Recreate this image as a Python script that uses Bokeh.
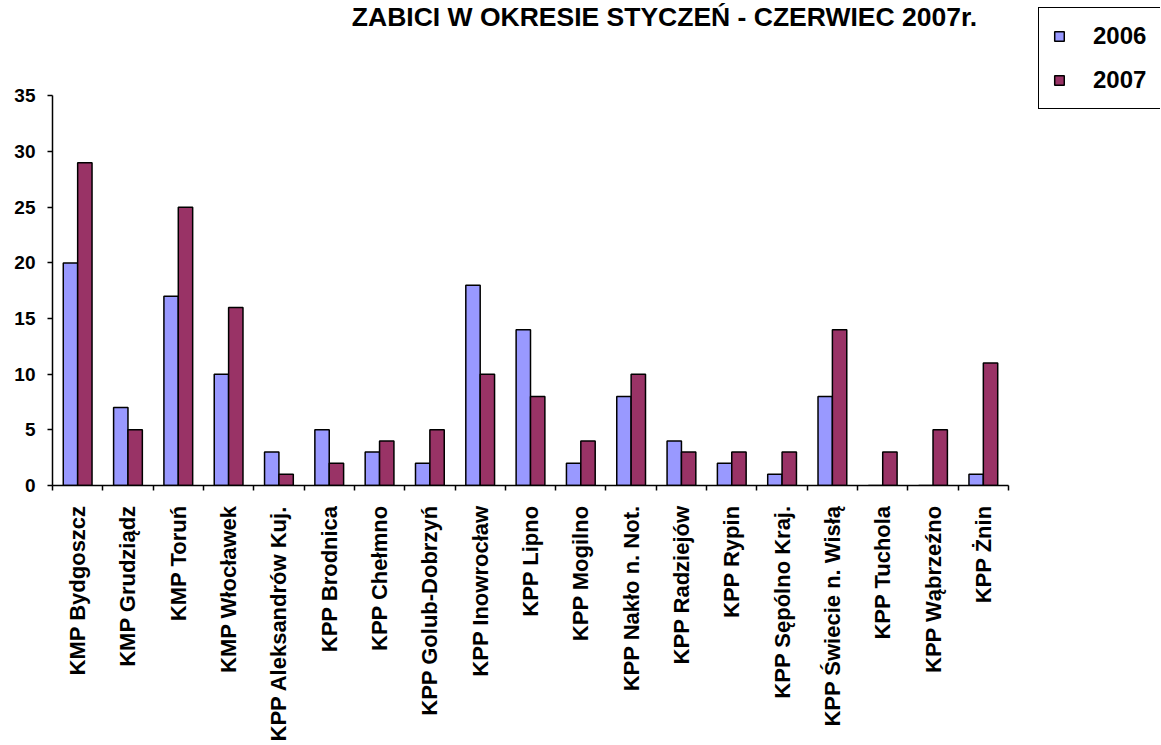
import numpy as np
from bokeh.plotting import figure
from bokeh.models import FixedTicker, Legend, LegendItem, Range1d, Label
from bokeh.embed import file_html
from bokeh.resources import INLINE

categories = ["KMP Bydgoszcz", "KMP Grudziądz", "KMP Toruń", "KMP Włocławek",
              "KPP Aleksandrów Kuj.", "KPP Brodnica", "KPP Chełmno", "KPP Golub-Dobrzyń",
              "KPP Inowrocław", "KPP Lipno", "KPP Mogilno", "KPP Nakło n. Not.",
              "KPP Radziejów", "KPP Rypin", "KPP Sępólno Kraj.", "KPP Świecie n. Wisłą",
              "KPP Tuchola", "KPP Wąbrzeźno", "KPP Żnin"]
v2006 = [20, 7, 17, 10, 3, 5, 3, 2, 18, 14, 2, 8, 4, 2, 1, 8, 0, 0, 1]
v2007 = [29, 5, 25, 16, 1, 2, 4, 5, 10, 8, 4, 10, 3, 3, 3, 14, 3, 5, 11]
series_names = ["2006", "2007"]
y_ticks = [0, 5, 10, 15, 20, 25, 30, 35]
title_text = "ZABICI W OKRESIE STYCZEŃ - CZERWIEC 2007r."

FONT = "Liberation Sans"
n = len(categories)
y_top = y_ticks[-1]

# layout (pixels)
W, H = 1160, 744
AX_LEFT, AX_RIGHT = 52, 1008      # x-axis span in px
AX_BOTTOM, AX_TOP = 488, 96       # y = 0 and y = 35 in px
px_x = (AX_RIGHT - AX_LEFT) / n
px_y = (AX_BOTTOM - AX_TOP) / y_top
x_max = (W - AX_LEFT) / px_x
y_max = AX_BOTTOM / px_y

centers = np.arange(n) + 0.5
bw = 1.0 / 3.5

p = figure(width=W, height=H, output_backend="svg", toolbar_location=None,
           x_range=Range1d(0, x_max), y_range=Range1d(0, y_max),
           min_border_left=AX_LEFT, min_border_right=0, min_border_top=0,
           min_border_bottom=H - AX_BOTTOM)
p.background_fill_color = "white"
p.border_fill_color = "white"
p.outline_line_color = None
p.xgrid.visible = False
p.ygrid.visible = False

r1 = p.vbar(x=centers - bw / 2, width=bw, top=v2006, bottom=0,
            fill_color="#9999FF", line_color="black", line_width=1.5)
r2 = p.vbar(x=centers + bw / 2, width=bw, top=v2007, bottom=0,
            fill_color="#993366", line_color="black", line_width=1.5)

xa = p.xaxis[0]
xa.bounds = (0, n)
xa.ticker = FixedTicker(ticks=list(centers), minor_ticks=list(range(n + 1)))
xa.major_label_overrides = {float(c): name for c, name in zip(centers, categories)}
xa.major_label_orientation = np.pi / 2
xa.major_tick_out = 0
xa.major_tick_in = 0
xa.minor_tick_out = 5
xa.minor_tick_in = 0
xa.minor_tick_line_color = "black"
xa.axis_line_color = "black"
xa.axis_line_width = 1.5
xa.minor_tick_line_width = 1.5
xa.major_label_standoff = 15
xa.major_label_text_font = FONT
xa.major_label_text_font_style = "bold"
xa.major_label_text_font_size = "22px"
xa.major_label_text_color = "black"

ya = p.yaxis[0]
ya.bounds = (0, y_top)
ya.ticker = FixedTicker(ticks=y_ticks, minor_ticks=[])
ya.major_tick_out = 5
ya.major_tick_in = 0
ya.major_tick_line_width = 1.5
ya.axis_line_width = 1.5
ya.axis_line_color = "black"
ya.major_label_standoff = 12
ya.major_label_text_font = FONT
ya.major_label_text_font_style = "bold"
ya.major_label_text_font_size = "19px"
ya.major_label_text_color = "black"

title = Label(x=(664 - AX_LEFT) / px_x, y=(AX_BOTTOM - 17) / px_y, text=title_text,
              text_font=FONT, text_font_style="bold", text_font_size="26.5px",
              text_color="black", text_align="center", text_baseline="middle")
p.add_layout(title)

legend = Legend(items=[LegendItem(label=series_names[0], renderers=[r1]),
                       LegendItem(label=series_names[1], renderers=[r2])],
                location=(1038 - AX_LEFT, AX_BOTTOM - 112), orientation="vertical",
                border_line_color="black", border_line_width=1.5, border_line_alpha=1.0,
                background_fill_color="white", background_fill_alpha=1.0,
                label_text_font=FONT, label_text_font_style="bold",
                label_text_color="black",
                label_text_font_size="24px", glyph_width=12, glyph_height=12,
                padding=14, spacing=16, label_height=16, label_standoff=28,
                label_width=100, margin=0)
p.add_layout(legend, "center")

open("out.html", "w").write(file_html(p, INLINE))
